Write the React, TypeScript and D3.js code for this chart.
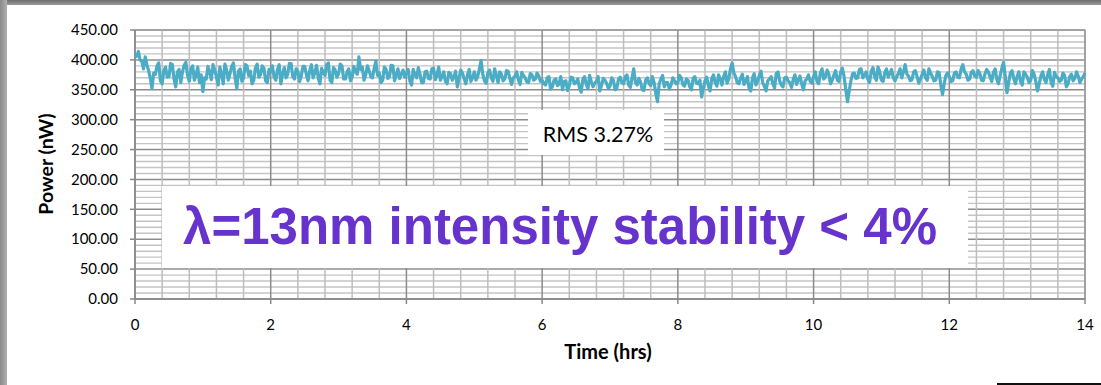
import React from "react";
import * as d3 from "d3";

const W = 1101;
const H = 385;

const seg0to2 = [410, 406, 414, 400, 398, 385, 405, 392, 382, 370, 352, 378, 376, 390, 395, 365, 360, 382, 388, 371, 372, 394, 392, 368, 355, 380, 384, 362, 380, 391, 396, 374, 364, 385, 390, 366, 375, 388, 362, 375, 347, 370, 368, 389, 380, 367, 392, 383, 372, 358, 388, 377, 360, 393, 383, 366, 377, 389, 395, 370, 352, 381, 385, 364, 370, 392, 390, 374, 381, 360, 366, 387, 393, 371, 375, 390, 386, 365, 362, 384];
const seg2to4 = [380, 390, 371, 366, 384, 392, 360, 377, 387, 370, 376, 394, 394, 372, 368, 385, 381, 364, 373, 389, 389, 376, 365, 382, 392, 370, 378, 391, 370, 360, 386, 379, 374, 392, 395, 366, 362, 387, 383, 371, 377, 393, 390, 368, 368, 380, 385, 365, 372, 389, 380, 376, 405, 384, 388, 366, 375, 390, 382, 372, 370, 386, 398, 374, 378, 362, 366, 388, 384, 369, 372, 391, 390, 365, 375, 385, 369, 376, 383, 371];
const seg4to6 = [378, 384, 365, 358, 384, 375, 370, 387, 376, 362, 362, 380, 381, 369, 368, 385, 386, 367, 374, 388, 366, 372, 380, 364, 360, 379, 377, 366, 371, 381, 355, 368, 383, 378, 369, 360, 375, 384, 364, 370, 380, 366, 372, 385, 399, 376, 365, 361, 378, 383, 370, 364, 385, 374, 362, 380, 376, 365, 368, 382, 381, 368, 359, 370, 373, 380, 366, 359, 379, 374, 370, 363, 362, 377, 375, 366, 368, 378, 373, 364];
const seg6to8 = [366, 360, 358, 370, 372, 351, 355, 366, 368, 357, 360, 372, 350, 364, 365, 349, 357, 371, 370, 360, 362, 368, 353, 346, 367, 372, 359, 352, 374, 363, 355, 361, 364, 372, 348, 357, 369, 366, 361, 352, 356, 370, 366, 350, 352, 368, 371, 362, 360, 372, 375, 358, 354, 370, 385, 362, 358, 369, 363, 350, 349, 366, 370, 361, 357, 372, 362, 344, 330, 360, 368, 374, 355, 362, 362, 351, 358, 370, 365, 360];
const seg8to10 = [362, 374, 370, 358, 356, 368, 366, 355, 350, 369, 372, 361, 360, 366, 338, 352, 365, 371, 357, 348, 369, 375, 362, 356, 375, 368, 358, 372, 380, 361, 368, 385, 395, 378, 372, 362, 360, 370, 376, 359, 364, 372, 352, 348, 370, 377, 358, 364, 374, 381, 362, 356, 348, 365, 368, 372, 360, 353, 377, 380, 365, 358, 355, 370, 371, 365, 362, 354, 367, 375, 359, 366, 373, 360, 350, 365, 368, 375, 364, 361];
const seg10to12 = [372, 380, 364, 360, 378, 385, 368, 372, 383, 376, 360, 366, 375, 382, 366, 364, 380, 386, 372, 350, 330, 348, 365, 377, 378, 369, 370, 384, 385, 370, 374, 380, 368, 362, 381, 387, 372, 366, 388, 380, 366, 364, 379, 385, 371, 378, 384, 370, 365, 372, 377, 385, 370, 380, 392, 376, 373, 365, 367, 380, 382, 372, 361, 368, 376, 383, 370, 366, 385, 378, 372, 365, 366, 380, 379, 358, 342, 360, 374, 378];
const seg12to14 = [372, 364, 365, 378, 380, 371, 370, 385, 392, 380, 376, 366, 368, 379, 382, 373, 371, 382, 377, 366, 365, 376, 384, 380, 372, 364, 379, 385, 368, 360, 374, 386, 396, 372, 345, 362, 378, 382, 369, 360, 372, 380, 364, 358, 380, 376, 371, 362, 366, 382, 376, 364, 348, 360, 373, 380, 368, 362, 375, 384, 362, 356, 379, 372, 370, 364, 366, 378, 374, 355, 360, 372, 376, 365, 369, 380, 373, 362, 368, 372, 378];

const power = [...seg0to2, ...seg2to4, ...seg4to6, ...seg6to8, ...seg8to10, ...seg10to12, ...seg12to14];
const timeEnd = 14;

const xTicks = [0, 2, 4, 6, 8, 10, 12, 14];
const yTicks = [0, 50, 100, 150, 200, 250, 300, 350, 400, 450];

const rmsLabel = "RMS 3.27%";
const bigLabel = "λ=13nm intensity stability < 4%";
const xTitle = "Time (hrs)";
const yTitle = "Power (nW)";

export default function App() {
  const left = 135, right = 1085, top = 30, bottom = 299;
  const x = d3.scaleLinear().domain([0, 14]).range([left, right]);
  const y = d3.scaleLinear().domain([0, 450]).range([bottom, top]);
  const tIndex = d3.scaleLinear().domain([0, power.length - 1]).range([0, timeEnd]);

  const minorY = d3.range(0, 451, 10);
  const minorX = d3.range(0, 14.001, 0.4);

  const line = d3
    .line<number>()
    .x((_, i) => x(tIndex(i)))
    .y((d) => y(d))
    .curve(d3.curveLinear);

  const tickFont = "Lato, 'Open Sans', sans-serif";

  return (
    <svg
      width={W}
      height={H}
      style={{ position: "absolute", left: 0, top: 0, background: "#fff" }}
    >
      <defs>
        <linearGradient id="topbar" x1="0" y1="0" x2="0" y2="1">
          <stop offset="0" stopColor="#6e6e6e" />
          <stop offset="1" stopColor="#9a9a9a" />
        </linearGradient>
        <linearGradient id="leftbar" x1="0" y1="0" x2="1" y2="0">
          <stop offset="0" stopColor="#8a8a8a" />
          <stop offset="1" stopColor="#b0b0b0" />
        </linearGradient>
      </defs>
      <rect x={0} y={0} width={W} height={H} fill="#fff" />
      <rect x={0} y={0} width={W} height={5} fill="url(#topbar)" />
      <rect x={0} y={0} width={7} height={H} fill="url(#leftbar)" />
      <line x1={997} x2={W} y1={384} y2={384} stroke="#111" strokeWidth={2} />

      {/* horizontal grid */}
      {minorY.map((v) => (
        <line
          key={"hy" + v}
          x1={left}
          x2={right}
          y1={y(v)}
          y2={y(v)}
          stroke={v % 50 === 0 ? "#8c8c8c" : "#c4c4c4"}
          strokeWidth={v % 50 === 0 ? 1.5 : 1.4}
        />
      ))}
      {/* vertical grid */}
      {minorX.map((v) => {
        const major = Math.abs(v / 2 - Math.round(v / 2)) < 1e-6;
        return (
          <line
            key={"vx" + v.toFixed(2)}
            x1={x(v)}
            x2={x(v)}
            y1={top}
            y2={bottom}
            stroke={major ? "#8c8c8c" : "#bdbdbd"}
            strokeWidth={1.5}
          />
        );
      })}
      {/* plot border */}
      <rect x={left} y={top} width={right - left} height={bottom - top} fill="none" stroke="#a0a0a0" strokeWidth={1.2} />

      {/* axes */}
      <line x1={left} x2={left} y1={top} y2={bottom} stroke="#888" strokeWidth={1.5} />
      <line x1={left} x2={right} y1={bottom} y2={bottom} stroke="#888" strokeWidth={1.5} />
      {yTicks.map((v) => (
        <g key={"yt" + v}>
          <line x1={left - 5} x2={left} y1={y(v)} y2={y(v)} stroke="#888" strokeWidth={1.5} />
          <text
            x={118}
            y={y(v)}
            dy="0.35em"
            textAnchor="end"
            fontFamily={tickFont}
            fontSize={15}
            fill="#000"
          >
            {v.toFixed(2)}
          </text>
        </g>
      ))}
      {xTicks.map((v) => (
        <g key={"xt" + v}>
          <line x1={x(v)} x2={x(v)} y1={bottom} y2={bottom + 5} stroke="#888" strokeWidth={1.5} />
          <text
            x={x(v)}
            y={325}
            dy="0.35em"
            textAnchor="middle"
            fontFamily={tickFont}
            fontSize={15}
            fill="#000"
          >
            {v}
          </text>
        </g>
      ))}

      {/* series */}
      <path d={line(power) || ""} fill="none" stroke="#4bacc6" strokeWidth={3.2} strokeLinejoin="round" />

      {/* RMS label */}
      <rect x={528} y={110} width={136} height={45} fill="#fff" />
      <text x={598} y={134} dy="0.35em" textAnchor="middle" fontFamily={tickFont} fontSize={21.5} fill="#000">
        {rmsLabel}
      </text>

      {/* big label */}
      <rect x={162} y={186} width={806} height={82} fill="#fff" />
      <text
        x={560}
        y={244}
        textAnchor="middle"
        fontFamily="'Liberation Sans', Arial, sans-serif"
        fontWeight="bold"
        fontSize={51}
        fill="#6633cc"
      >
        {bigLabel}
      </text>

      {/* titles */}
      <text x={608} y={352} dy="0.35em" textAnchor="middle" fontFamily={tickFont} fontWeight="bold" fontSize={20} fill="#000">
        {xTitle}
      </text>
      <text
        transform={`translate(46,164) rotate(-90)`}
        dy="0.35em"
        textAnchor="middle"
        fontFamily={tickFont}
        fontWeight="bold"
        fontSize={19.5}
        fill="#000"
      >
        {yTitle}
      </text>
    </svg>
  );
}
